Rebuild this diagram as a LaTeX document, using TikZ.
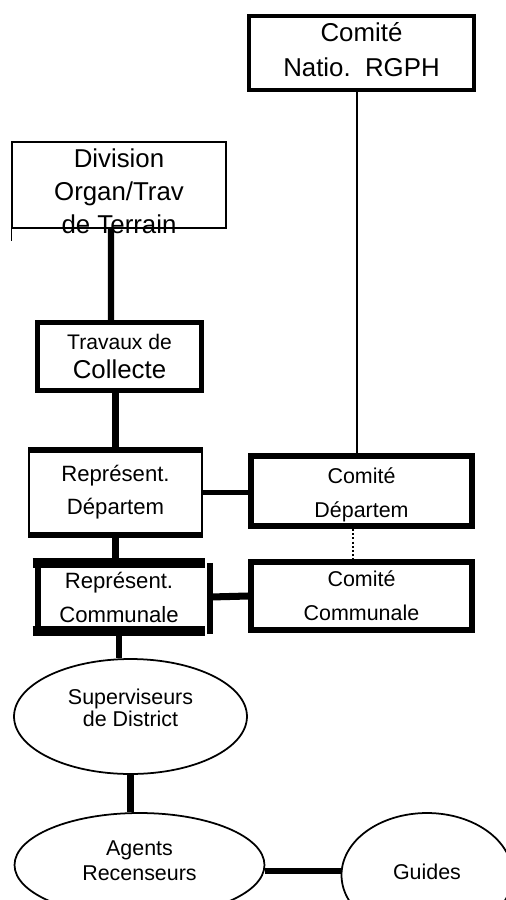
\documentclass[tikz,border=0pt]{standalone}
\usepackage{fontspec}
\setmainfont{Liberation Sans}
\usetikzlibrary{shapes.geometric}

\begin{document}
\begin{tikzpicture}[x=0.02cm,y=-0.02cm,
  heavybox/.style={draw,line width=#1,align=center,inner sep=0pt},
  heavybox/.default=3.6pt,
  thinbox/.style={draw,line width=0.6pt,align=center,inner sep=0pt},
  oval/.style={draw,ellipse,line width=1pt,align=center,inner sep=0pt},
  link/.style={line width=#1},
  link/.default=3.6pt,
  bigtxt/.style={font=\fontsize{14.7pt}{#1}\selectfont},
  smalltxt/.style={font=\fontsize{12.2pt}{#1}\selectfont}]
\useasboundingbox (0,0) rectangle (506,900);

\node[heavybox=2.5pt,bigtxt=19.8pt,minimum width=4.49cm,minimum height=1.47cm,text depth=4pt] (natio) at (361.5,53) {Comité\\Natio.\ \ RGPH};
\node[thinbox,bigtxt=19pt,minimum width=4.28cm,minimum height=1.72cm,text height=1.96cm,text depth=0pt,inner ysep=-0.12cm] (division) at (119,185) {Division\\Organ/Trav\\de Terrain};
\node[heavybox=3pt,font=\fontsize{12pt}{17pt}\selectfont,minimum width=3.27cm,minimum height=1.35cm] (travaux) at (119.5,356.5) {Travaux de\\{\fontsize{14.7pt}{17pt}\selectfont Collecte}};
\node[thinbox,font=\fontsize{12.6pt}{18.7pt}\selectfont,minimum width=3.46cm,minimum height=1.68cm] (repdep) at (115.5,492.5) {Représent.\\Départem};
\node[heavybox,smalltxt=19.5pt,minimum width=4.41cm,minimum height=1.39cm,text height=30.2pt,text depth=0pt] (comdep) at (361.5,491) {Comité\\Départem};
\node[heavybox,smalltxt=19.3pt,minimum width=4.41cm,minimum height=1.35cm] (comcom) at (361.5,596) {Comité\\Communale};
\node[align=center,inner sep=0pt,font=\fontsize{12.6pt}{19.3pt}\selectfont,minimum width=3.44cm,minimum height=1.35cm] (repcom) at (119,597) {Représent.\\Communale};
\node[oval,smalltxt=12.5pt,minimum width=4.66cm,minimum height=2.3cm,text depth=10.2pt] (superv) at (130.5,716.5) {Superviseurs\\de District};
\node[oval,smalltxt=14.2pt,minimum width=5cm,minimum height=2.08cm,text depth=5.1pt] (agents) at (139.5,865) {Agents\\Recenseurs};
\node[oval,smalltxt=14.2pt,minimum width=3.42cm,minimum height=2.48cm,text depth=3.4pt] (guides) at (427,875) {Guides};

\draw[line width=1pt] (division.north west) -- ([yshift=-0.24cm]division.south west);
\foreach \a/\b in {north west/north east,south west/south east}{
  \draw[line width=3pt] (repdep.\a) -- (repdep.\b);
  \draw[line width=5.7pt] (repcom.\a) -- (repcom.\b);
}
\draw[line width=3.4pt] ([xshift=0.1cm]repcom.north west) -- ([xshift=0.1cm]repcom.south west);
\draw[line width=3.4pt] ([xshift=0.1cm]repcom.north east) -- ([xshift=0.1cm,yshift=-0.05cm]repcom.south east);

\draw[link] ([xshift=-0.16cm]division.south) -- ([xshift=-0.17cm]travaux.north);
\draw[link] (repdep.north |- travaux.south) -- (repdep.north);
\draw[link] (repdep.south) -- (repdep.south |- repcom.north);
\draw[link] (repcom.south) -- (repcom.south |- superv.north);
\draw[link] (superv.south) -- (superv.south |- agents.north);
\draw[link=3.8pt] ([yshift=-0.12cm]agents.east) -- ([yshift=-0.12cm]agents.east -| guides.west);
\draw[line width=1pt] ([xshift=-0.09cm]natio.south) -- ([xshift=-0.09cm]comdep.north);
\draw[link=2.6pt] (repdep.east) -- (repdep.east -| comdep.west);
\draw[line width=1.7pt,dash pattern=on 1.2pt off 1.2pt] ([xshift=-0.17cm]comdep.south) -- ([xshift=-0.17cm]comcom.north);
\draw[link=4pt] ([xshift=0.1cm]repcom.east) -- (comcom.west);
\end{tikzpicture}
\end{document}
